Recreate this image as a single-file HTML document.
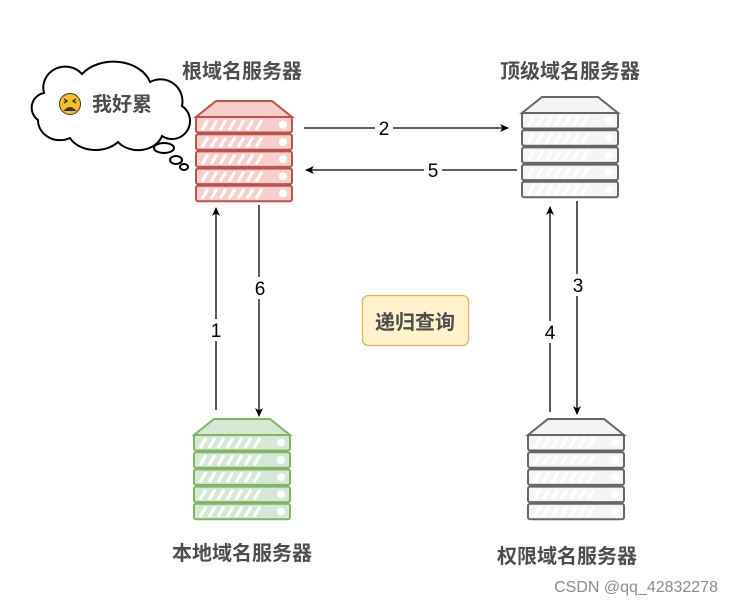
<!DOCTYPE html>
<html><head><meta charset="utf-8"><style>
html,body{margin:0;padding:0;background:#fff;}
svg{display:block;}
text{font-family:"Liberation Sans","Noto Sans CJK SC",sans-serif;}
.lbl{font-size:20px;font-weight:bold;fill:#4d4d4d;}
.num{font-size:19px;fill:#000;}
</style></head><body>
<svg width="732" height="606" viewBox="0 0 732 606" xmlns="http://www.w3.org/2000/svg">
<defs>
<g id="row">
<rect x="0" y="0" width="96" height="15.5" rx="2"/>
<g stroke="#fff" stroke-width="3" fill="none">
<line x1="6" y1="13" x2="12" y2="3"/><line x1="15" y1="13" x2="21" y2="3"/><line x1="24" y1="13" x2="30" y2="3"/><line x1="33" y1="13" x2="39" y2="3"/><line x1="42" y1="13" x2="48" y2="3"/><line x1="51" y1="13" x2="57" y2="3"/><line x1="60" y1="13" x2="66" y2="3"/>
</g>
<circle cx="87" cy="7.75" r="4" fill="#fff" stroke="none"/>
</g>
<g id="srv">
<polygon points="20,0 76,0 96,16 0,16"/>
<use href="#row" y="16"/><use href="#row" y="33.2"/><use href="#row" y="50.4"/><use href="#row" y="67.6"/><use href="#row" y="84.8"/>
</g>
<marker id="ah" markerWidth="10" markerHeight="10" refX="8" refY="5" orient="auto" markerUnits="userSpaceOnUse">
<path d="M0,1 L9,5 L0,9 L2.5,5 Z" fill="#000"/>
</marker>
</defs>

<use href="#srv" x="196" y="101" fill="#f8cecc" stroke="#b85450" stroke-width="2"/>
<use href="#srv" x="522" y="97" fill="#f5f5f5" stroke="#666" stroke-width="2"/>
<use href="#srv" x="194" y="419" fill="#d5e8d4" stroke="#82b366" stroke-width="2"/>
<use href="#srv" x="528" y="419" fill="#f5f5f5" stroke="#666" stroke-width="2"/>

<text class="lbl" x="242" y="78" text-anchor="middle">根域名服务器</text>
<text class="lbl" x="570" y="78" text-anchor="middle">顶级域名服务器</text>
<text class="lbl" x="242" y="560" text-anchor="middle">本地域名服务器</text>
<text class="lbl" x="567" y="563" text-anchor="middle">权限域名服务器</text>

<g stroke="#000" stroke-width="1.3" fill="none">
<line x1="304" y1="128" x2="508" y2="128" marker-end="url(#ah)"/>
<line x1="517" y1="170" x2="306" y2="170" marker-end="url(#ah)"/>
<line x1="216" y1="410" x2="216" y2="208" marker-end="url(#ah)"/>
<line x1="259" y1="205" x2="259" y2="416" marker-end="url(#ah)"/>
<line x1="577" y1="201" x2="577" y2="414" marker-end="url(#ah)"/>
<line x1="550" y1="412" x2="550" y2="207" marker-end="url(#ah)"/>
</g>
<rect x="375" y="117" width="18" height="22" fill="#fff"/>
<text class="num" x="384" y="135" text-anchor="middle">2</text>
<rect x="424" y="159" width="18" height="22" fill="#fff"/>
<text class="num" x="433" y="177" text-anchor="middle">5</text>
<rect x="207" y="319" width="18" height="22" fill="#fff"/>
<text class="num" x="216" y="337" text-anchor="middle">1</text>
<rect x="251" y="277" width="18" height="22" fill="#fff"/>
<text class="num" x="260" y="295" text-anchor="middle">6</text>
<rect x="569" y="274" width="18" height="22" fill="#fff"/>
<text class="num" x="578" y="292" text-anchor="middle">3</text>
<rect x="541" y="321" width="18" height="22" fill="#fff"/>
<text class="num" x="550" y="339" text-anchor="middle">4</text>

<rect x="362.5" y="295.5" width="106" height="50" rx="6" fill="#fff2cc" stroke="#d6b656" stroke-width="1.3"/>
<text class="lbl" x="415" y="329" text-anchor="middle">递归查询</text>

<path d="M44,93 A22,21 0 0 1 82,74 A38,28 0 0 1 150,82 A22,22 0 0 1 182,106 A18,18 0 0 1 162,136 A25,20 0 0 1 118,142 A28,20 0 0 1 70,138 A22,20 0 0 1 38,120 A15,15 0 0 1 44,93 Z" fill="#fff" stroke="#000" stroke-width="2"/>
<ellipse cx="164" cy="148" rx="10" ry="5" fill="#fff" stroke="#000" stroke-width="2"/>
<ellipse cx="176" cy="160" rx="6" ry="4" fill="#fff" stroke="#000" stroke-width="2"/>
<ellipse cx="184" cy="167" rx="4" ry="3" fill="#fff" stroke="#000" stroke-width="2"/>
<circle cx="70" cy="104" r="10.5" fill="#f7c02b" stroke="#333" stroke-width="1"/>
<path d="M64,99 l3,2 l-3,2 M76,99 l-3,2 l3,2" stroke="#333" stroke-width="1.4" fill="none"/>
<path d="M63.5,111 Q70,103 76.5,111 Z" fill="#333"/>
<text class="lbl" x="92" y="111">我好累</text>

<text x="718" y="592" text-anchor="end" style="font-size:16px;fill:#8c8c8c;">CSDN @qq_42832278</text>
</svg>
</body></html>
